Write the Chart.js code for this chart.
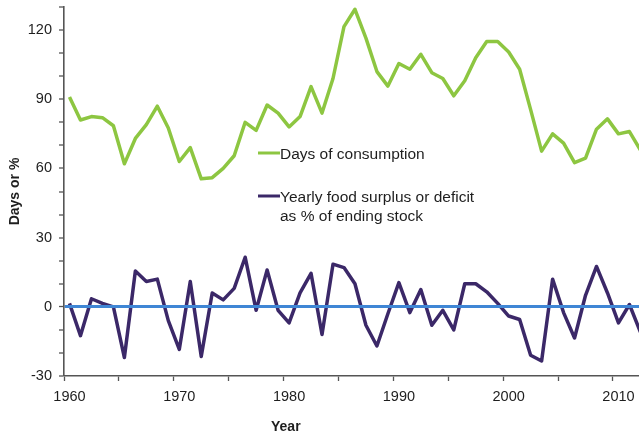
<!DOCTYPE html>
<html><head><meta charset="utf-8">
<script src="https://cdn.jsdelivr.net/npm/chart.js@4"></script>
<style>html,body{margin:0;padding:0;background:#fff}canvas{display:block}</style>
</head><body>
<canvas id="c" width="639" height="437"></canvas>
<script>
const YEARS = [1960,1961,1962,1963,1964,1965,1966,1967,1968,1969,
               1970,1971,1972,1973,1974,1975,1976,1977,1978,1979,
               1980,1981,1982,1983,1984,1985,1986,1987,1988,1989,
               1990,1991,1992,1993,1994,1995,1996,1997,1998,1999,
               2000,2001,2002,2003,2004,2005,2006,2007,2008,2009,
               2010,2011,2012];
const DAYS_OF_CONSUMPTION = [91,81,82.5,82,78.5,62,73,79,87,77.5,
                             63,69,55.5,56,60,65.5,80,76.5,87.5,84,
                             78,82.5,95.5,84,99,121.5,129,116.5,102,95.7,
                             105.5,103,109.5,101.5,99,91.5,98,108,115,115,
                             110.5,103,85.5,67.5,75,71,62.5,64.5,77,81.5,
                             75,76,68];
const SURPLUS_PCT = [1.5,-12.5,3.5,1.5,0,-22,15.5,11,12,-6,
                     -18.5,11,-21.5,6,3,8,21.5,-1.5,16,-1.5,
                     -7,6,14.5,-12,18.5,17,10,-8,-17,-3,
                     10.5,-2.5,7.5,-8,-1.5,-10,10,10,6.5,1.5,
                     -4,-5.5,-21,-23.5,12,-2.5,-13.5,5,17.5,6,
                     -7,1,-11];
const X_TICK_LABELS = ['1960','1970','1980','1990','2000','2010'];
const Y_TICK_LABELS = ['-30','0','30','60','90','120'];
const SERIES_NAMES = ['Days of consumption', 'Yearly food surplus or deficit\nas % of ending stock'];
const X_TITLE = 'Year';
const Y_TITLE = 'Days or %';

const FONT = "'Liberation Sans', Arial, Helvetica, sans-serif";
const GREEN = '#8dc641', PURPLE = '#3b2868', BLUE = '#3f86d5', AXIS = '#555555', TEXT = '#1e1e1e';

const overlay = {
  id: 'overlay',
  afterDraw(chart) {
    const ctx = chart.ctx;
    ctx.save();
    ctx.font = '15.5px ' + FONT;
    ctx.fillStyle = TEXT;
    ctx.textBaseline = 'middle';
    ctx.textAlign = 'left';
    const items = [{ds: 0, x: 258, y: 153}, {ds: 1, x: 258, y: 196}];
    items.forEach(it => {
      const ds = chart.data.datasets[it.ds];
      ctx.strokeStyle = ds.borderColor;
      ctx.lineWidth = 3;
      ctx.beginPath(); ctx.moveTo(it.x, it.y); ctx.lineTo(it.x + 22, it.y); ctx.stroke();
      ds.label.split('\n').forEach((line, i) => ctx.fillText(line, it.x + 22, it.y + 1.5 + i * 19));
    });
    const xs = chart.scales.x;
    ctx.font = 'bold 14px ' + FONT;
    ctx.textAlign = 'center';
    ctx.fillText(X_TITLE, xs.getPixelForValue(1979.7), 427);
    ctx.restore();
  }
};

new Chart(document.getElementById('c'), {
  type: 'line',
  data: {
    datasets: [
      { label: SERIES_NAMES[0], data: YEARS.map((y, i) => ({x: y, y: DAYS_OF_CONSUMPTION[i]})),
        borderColor: GREEN, borderWidth: 3.5, pointRadius: 0, tension: 0, borderJoinStyle: 'round' },
      { label: SERIES_NAMES[1], data: YEARS.map((y, i) => ({x: y, y: SURPLUS_PCT[i]})),
        borderColor: PURPLE, borderWidth: 3.5, pointRadius: 0, tension: 0, borderJoinStyle: 'round' }
    ]
  },
  options: {
    responsive: false,
    animation: false,
    layout: { padding: { top: 7, right: 0, left: 0, bottom: 0 } },
    plugins: { legend: { display: false }, tooltip: { enabled: false } },
    scales: {
      x: {
        type: 'linear',
        min: YEARS[0] - 0.5,
        max: 2011.87,
        afterBuildTicks(scale) {
          const t = [];
          for (let v = YEARS[0]; v <= 2010; v += 5) t.push({ value: v - 0.5 });
          scale.ticks = t;
        },
        afterFit(scale) { scale.height = 61; scale.paddingLeft = 0; scale.paddingRight = 0; },
        ticks: {
          autoSkip: false, maxRotation: 0,
          padding: 7.5,
          labelOffset: 5.5,
          color: TEXT,
          font: { family: FONT, size: 14.5 },
          callback: (v) => { const s = String(Math.round(v + 0.5)); return X_TICK_LABELS.includes(s) ? s : ''; }
        },
        grid: { drawOnChartArea: false, tickLength: 5, tickColor: AXIS, tickWidth: 1.3, color: AXIS },
        border: { color: AXIS, width: 1.6 }
      },
      y: {
        min: -30, max: 130,
        afterFit(scale) { scale.width = 64; scale.paddingTop = 0; scale.paddingBottom = 0; },
        ticks: {
          stepSize: 10, autoSkip: false,
          padding: 7,
          color: TEXT,
          font: { family: FONT, size: 14.5 },
          callback: (v) => Y_TICK_LABELS.includes(String(v)) ? String(v) : ''
        },
        grid: {
          z: 1,
          drawOnChartArea: true,
          tickLength: 5, tickColor: AXIS, tickWidth: 1.3,
          color: (c) => (c.tick && c.tick.value === 0) ? BLUE : 'rgba(0,0,0,0)',
          lineWidth: (c) => (c.tick && c.tick.value === 0) ? 3 : 0
        },
        border: { color: AXIS, width: 1.6, z: 2 },
        title: { display: true, text: Y_TITLE, color: TEXT, font: { family: FONT, size: 14, weight: 'bold' }, padding: { top: 7, bottom: 0 } }
      }
    }
  },
  plugins: [overlay]
});
</script>
</body></html>
